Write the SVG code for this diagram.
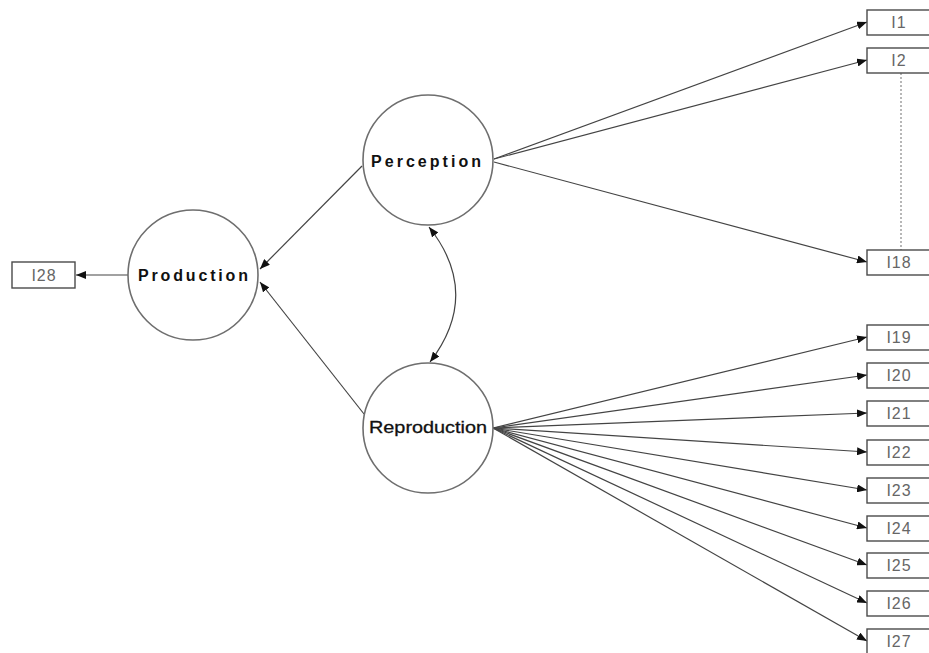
<svg xmlns="http://www.w3.org/2000/svg" width="929" height="653" viewBox="0 0 929 653">
<defs>
<style>
.node circle{fill:#fff;stroke:#6e6e6e;stroke-width:1.6}
.node rect{fill:#fff;stroke:#4a4a4a;stroke-width:1.4}
.lbl{font-family:"Liberation Sans",Arial,sans-serif;font-size:16px;font-weight:bold;fill:#111;text-anchor:middle}
.lbl2{font-family:"Liberation Sans",Arial,sans-serif;font-size:17px;fill:#111;text-anchor:middle;stroke:#111;stroke-width:0.3}
.box{font-family:"Liberation Sans",Arial,sans-serif;font-size:16px;fill:#666;text-anchor:middle;letter-spacing:1px}
.edges .arr{stroke:#444;stroke-width:1.2;fill:none;marker-end:url(#ah)}
.edges .dot{stroke:#888;stroke-width:1.2;stroke-dasharray:2,2;fill:none}
</style>
<marker id="ah" viewBox="0 0 10 8" refX="10" refY="4" markerWidth="10" markerHeight="8" markerUnits="userSpaceOnUse" orient="auto-start-reverse">
<path d="M0,0 L10,4 L0,8 z" fill="#111"/>
</marker>
</defs>
<rect width="929" height="653" fill="#fff"/>
<g class="edges">
<line class="arr" x1="128" y1="275" x2="76" y2="275"/>
<line class="arr" x1="362" y1="166" x2="260" y2="269"/>
<line class="arr" x1="364" y1="414" x2="260" y2="282"/>
<path class="arr" d="M429,227 Q482,294 430,362" marker-start="url(#ah)"/>
<line class="arr" x1="494" y1="159" x2="867" y2="22"/>
<line class="arr" x1="494" y1="159" x2="867" y2="60"/>
<line class="arr" x1="494" y1="162" x2="867" y2="262"/>
<line class="arr" x1="493" y1="428" x2="867" y2="337"/>
<line class="arr" x1="493" y1="428" x2="867" y2="375"/>
<line class="arr" x1="493" y1="428" x2="867" y2="413"/>
<line class="arr" x1="493" y1="428" x2="867" y2="452"/>
<line class="arr" x1="493" y1="428" x2="867" y2="490"/>
<line class="arr" x1="493" y1="428" x2="867" y2="528"/>
<line class="arr" x1="493" y1="428" x2="867" y2="565"/>
<line class="arr" x1="493" y1="428" x2="867" y2="603"/>
<line class="arr" x1="493" y1="428" x2="867" y2="641"/>
<line class="dot" x1="901" y1="73" x2="901" y2="250"/>
</g>
<g id="production" class="node"><circle cx="193" cy="275" r="65"/><text class="lbl" x="193" y="281" textLength="110" lengthAdjust="spacing">Production</text></g>
<g id="perception" class="node"><circle cx="428" cy="160" r="65"/><text class="lbl" x="426" y="167" textLength="110" lengthAdjust="spacing">Perception</text></g>
<g id="reproduction" class="node"><circle cx="428" cy="428" r="65"/><text class="lbl2" x="428" y="433" textLength="118" lengthAdjust="spacingAndGlyphs">Reproduction</text></g>
<g id="I28" class="node"><rect x="12" y="262" width="63" height="26"/><text class="box" x="44" y="281">I28</text></g>
<g id="I1" class="node"><rect x="867" y="10" width="64" height="25"/><text class="box" x="899" y="28">I1</text></g>
<g id="I2" class="node"><rect x="867" y="48" width="64" height="25"/><text class="box" x="899" y="66">I2</text></g>
<g id="I18" class="node"><rect x="867" y="250" width="64" height="25"/><text class="box" x="899" y="268">I18</text></g>
<g id="I19" class="node"><rect x="867" y="325" width="64" height="25"/><text class="box" x="899" y="343">I19</text></g>
<g id="I20" class="node"><rect x="867" y="363" width="64" height="25"/><text class="box" x="899" y="381">I20</text></g>
<g id="I21" class="node"><rect x="867" y="401" width="64" height="25"/><text class="box" x="899" y="419">I21</text></g>
<g id="I22" class="node"><rect x="867" y="440" width="64" height="25"/><text class="box" x="899" y="458">I22</text></g>
<g id="I23" class="node"><rect x="867" y="478" width="64" height="25"/><text class="box" x="899" y="496">I23</text></g>
<g id="I24" class="node"><rect x="867" y="516" width="64" height="25"/><text class="box" x="899" y="534">I24</text></g>
<g id="I25" class="node"><rect x="867" y="553" width="64" height="25"/><text class="box" x="899" y="571">I25</text></g>
<g id="I26" class="node"><rect x="867" y="591" width="64" height="25"/><text class="box" x="899" y="609">I26</text></g>
<g id="I27" class="node"><rect x="867" y="629" width="64" height="25"/><text class="box" x="899" y="647">I27</text></g>
</svg>
